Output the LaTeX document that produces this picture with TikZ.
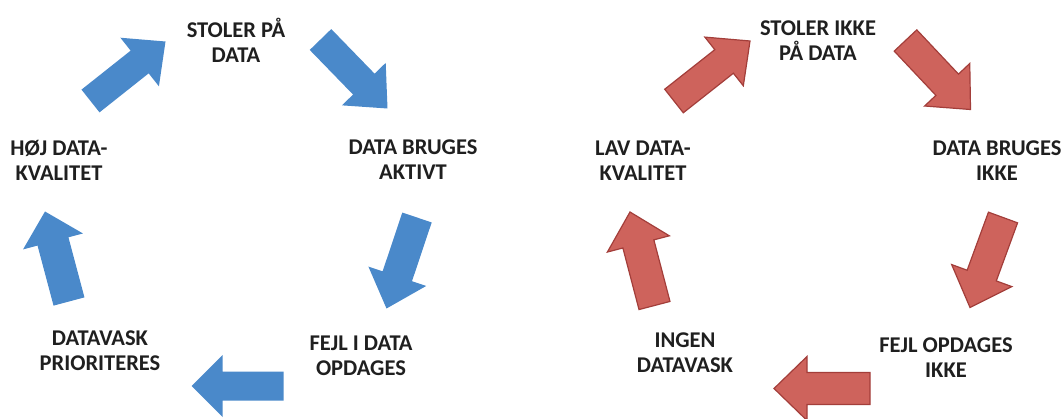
\documentclass[tikz,border=0pt]{standalone}
\usepackage{fontspec}
\setmainfont{Carlito}
\usetikzlibrary{calc}

\definecolor{cycblue}{RGB}{74,137,202}
\definecolor{cycred}{RGB}{206,99,92}
\definecolor{cycredline}{RGB}{163,62,58}

% Block arrow from a tail coordinate to a tip coordinate.
% #1 style, #2 tail, #3 tip, #4 half shaft width, #5 half head width, #6 head length
\newcommand\blockarrow[6]{%
  \path ($(#3)!#6!(#2)$) coordinate (#2-base);
  \path[#1] ($(#2)!#4!90:(#3)$)
     -- ($(#2-base)!#4!90:(#3)$)
     -- ($(#2-base)!#5!90:(#3)$)
     -- (#3)
     -- ($(#2-base)!#5!-90:(#3)$)
     -- ($(#2-base)!#4!-90:(#3)$)
     -- ($(#2)!#4!-90:(#3)$)
     -- cycle;
}

\tikzset{
  label/.style={font=\bfseries\fontsize{22.5}{25}\selectfont, align=center,
                inner sep=0pt, text=black!88},
  bluearrow/.style={fill=cycblue},
  redarrow/.style={fill=cycred, draw=cycredline, line width=1.2pt, line join=miter},
}

\begin{document}
\begin{tikzpicture}[x=1pt,y=-1pt]
\useasboundingbox (0,0) rectangle (1064,419);

% ---- positive cycle ----
\node[label] (trust)   at (236,40)  {STOLER PÅ\\DATA};
\node[label] (used)    at (413,160) {DATA BRUGES\\AKTIVT};
\node[label] (errors)  at (361,356) {FEJL I DATA\\OPDAGES};
\node[label] (cleanup) at (100,351) {DATAVASK\\PRIORITERES};
\node[label] (quality) at (59,160)  {HØJ DATA-\\KVALITET};

\coordinate (b1s) at (90.5,101);  \coordinate (b1e) at (165.5,41.5);
\coordinate (b2s) at (320.5,39.5);\coordinate (b2e) at (387.5,108.5);
\coordinate (b3s) at (417,217.5); \coordinate (b3e) at (386.5,308.5);
\coordinate (b4s) at (283.5,386); \coordinate (b4e) at (191.5,386);
\coordinate (b5s) at (69,301.5);  \coordinate (b5e) at (45,211.5);

\blockarrow{bluearrow}{b1s}{b1e}{14.5pt}{31pt}{33pt}
\blockarrow{bluearrow}{b2s}{b2e}{15pt}{30.5pt}{34pt}
\blockarrow{bluearrow}{b3s}{b3e}{15.5pt}{30.5pt}{34pt}
\blockarrow{bluearrow}{b4s}{b4e}{14.5pt}{31pt}{31pt}
\blockarrow{bluearrow}{b5s}{b5e}{16pt}{31pt}{31pt}

% ---- negative cycle ----
\node[label] (notrust)   at (818,41)  {STOLER IKKE\\PÅ DATA};
\node[label] (notused)   at (997,161) {DATA BRUGES\\IKKE};
\node[label] (noerrors)  at (946,358) {FEJL OPDAGES\\IKKE};
\node[label] (nocleanup) at (685,353) {INGEN\\DATAVASK};
\node[label] (lowqual)   at (643,161) {LAV DATA-\\KVALITET};

\coordinate (r1s) at (674,101);   \coordinate (r1e) at (750,41);
\coordinate (r2s) at (905.5,40.5);\coordinate (r2e) at (970.5,109.5);
\coordinate (r3s) at (1003,217.5);\coordinate (r3e) at (970,307.5);
\coordinate (r4s) at (870,388.5); \coordinate (r4e) at (774,388.5);
\coordinate (r5s) at (654.5,305.5);\coordinate (r5e) at (630,212);

\blockarrow{redarrow}{r1s}{r1e}{15pt}{31pt}{33pt}
\blockarrow{redarrow}{r2s}{r2e}{15.5pt}{31pt}{34pt}
\blockarrow{redarrow}{r3s}{r3e}{15.5pt}{32pt}{34pt}
\blockarrow{redarrow}{r4s}{r4e}{16pt}{32pt}{33pt}
\blockarrow{redarrow}{r5s}{r5e}{16pt}{32pt}{33pt}
\end{tikzpicture}
\end{document}
